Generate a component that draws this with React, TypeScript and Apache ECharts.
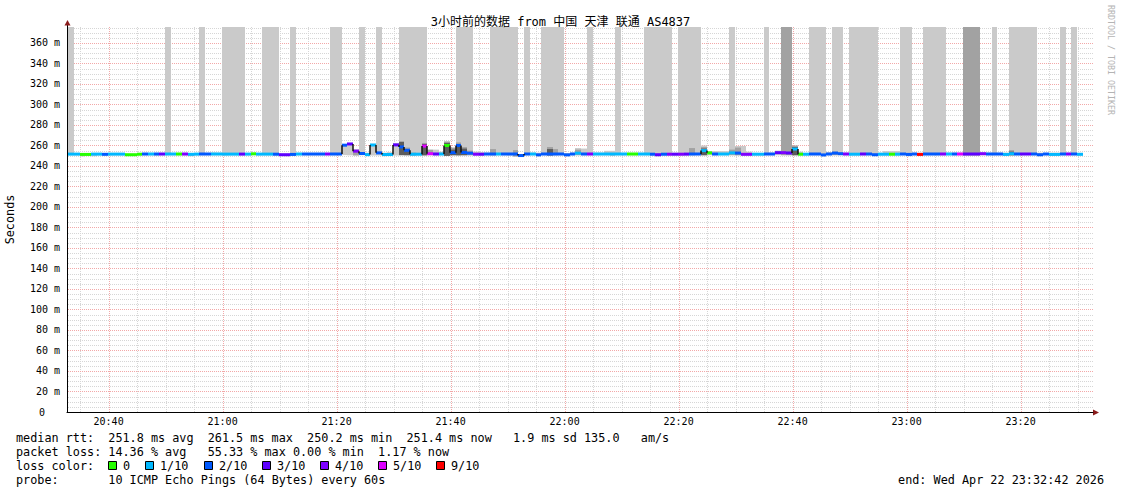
import React, { useEffect, useRef } from 'react';
import * as echarts from 'echarts';

const FONT = '"DejaVu Sans Mono", "Noto Sans CJK SC", monospace';

const titleText = '3小时前的数据 from 中国 天津 联通 AS4837';

// time axis in minutes after 20:00
const startMinute = 32.7; // 20:32:42
const endMinute = 212.7; // 23:32:42
const firstStepMinute = 32.9;
const stepMinutes = 1;

const xTickMinutes = [40, 60, 80, 100, 120, 140, 160, 180, 200];
const xTickLabels = ['20:40', '21:00', '21:20', '21:40', '22:00', '22:20', '22:40', '23:00', '23:20'];

const yMax = 375.6;

// median rtt per step (ms)
const medianRtt = [
  251.6, 251.6, 251.3, 251.3, 251.6, 251.6, 251.4, 251.6, 251.6, 251.6,
  251.0, 251.0, 251.5, 251.7, 251.7, 251.7, 251.7, 251.7, 251.7, 251.7,
  251.7, 251.4, 251.6, 251.7, 251.7, 251.7, 251.7, 251.6, 251.6, 251.6,
  251.6, 251.6, 251.9, 251.6, 251.6, 251.6, 251.5, 251.0, 251.0, 251.3,
  251.7, 251.7, 251.7, 251.7, 251.7, 251.7, 251.7, 251.7, 260.3, 261.5,
  254.5, 252.2, 251.1, 260.5, 252.8, 251.2, 251.2, 260.6, 258.6, 255.3,
  251.5, 251.5, 259.4, 252.0, 251.7, 251.7, 260.0, 253.0, 260.0, 253.2,
  252.5, 251.5, 251.5, 251.7, 251.7, 251.7, 251.7, 251.7, 251.7, 250.2,
  251.7, 251.7, 250.9, 251.7, 251.7, 251.7, 251.7, 250.9, 251.7, 252.5,
  251.7, 251.7, 251.7, 251.7, 251.7, 251.7, 251.7, 251.7, 251.7, 251.7,
  251.7, 251.7, 251.5, 251.0, 251.5, 251.5, 251.5, 251.5, 251.6, 251.7,
  251.7, 255.0, 252.8, 251.7, 251.7, 251.7, 252.8, 252.6, 251.4, 251.4,
  251.5, 251.5, 251.7, 251.7, 253.0, 253.0, 252.7, 256.5, 251.5, 251.5,
  251.7, 251.7, 250.8, 251.7, 252.6, 252.0, 251.7, 251.5, 251.5, 251.7,
  251.7, 251.0, 251.5, 251.5, 251.5, 251.5, 251.7, 251.3, 251.7, 251.3,
  251.7, 251.7, 251.7, 251.7, 251.7, 251.7, 251.7, 251.7, 251.7, 251.7,
  252.0, 251.7, 251.7, 251.7, 251.3, 252.0, 251.7, 251.7, 251.7, 251.7,
  251.0, 251.7, 251.3, 251.3, 251.7, 251.7, 251.7, 251.4,
];

// lost pings (of 10) per step
const lossCount = [
  1, 1, 0, 0, 1, 1, 2, 1, 1, 1,
  0, 0, 0, 2, 1, 2, 3, 1, 1, 0,
  4, 1, 1, 2, 2, 1, 1, 1, 1, 1,
  3, 1, 0, 1, 1, 1, 2, 3, 3, 2,
  1, 2, 2, 2, 2, 4, 2, 2, 2, 3,
  4, 2, 1, 1, 2, 1, 1, 3, 2, 2,
  1, 1, 5, 5, 3, 1, 0, 2, 2, 2,
  2, 4, 3, 2, 2, 1, 2, 2, 2, 2,
  2, 1, 2, 2, 2, 2, 2, 2, 2, 1,
  2, 4, 1, 1, 1, 1, 1, 1, 0, 0,
  1, 1, 2, 3, 2, 4, 3, 4, 3, 2,
  2, 1, 0, 2, 1, 1, 1, 2, 4, 4,
  1, 1, 2, 2, 3, 4, 3, 1, 0, 1,
  2, 2, 2, 2, 2, 2, 4, 1, 1, 3,
  2, 2, 1, 1, 0, 1, 2, 2, 2, 9,
  2, 2, 2, 4, 1, 2, 5, 3, 3, 3,
  4, 2, 2, 2, 1, 1, 2, 3, 3, 2,
  2, 2, 1, 1, 2, 4, 2, 1,
];

// lowest ping per step (ms)
const smokeLow = [
  250.5, 250.5, 249.3, 249.8, 249.5, 250.4, 250.3, 250.4, 250.5, 250.5,
  249.9, 249.8, 250.4, 250.5, 250.4, 250.2, 250.4, 250.5, 250.5, 250.3,
  250.4, 249.5, 250.4, 250.5, 250.5, 250.5, 250.5, 250.3, 250.4, 250.4,
  250.4, 250.5, 250.6, 250.4, 250.4, 250.4, 250.2, 249.8, 249.6, 250.1,
  250.5, 250.5, 250.5, 250.5, 250.5, 250.5, 250.5, 250.5, 250.6, 250.4,
  250.3, 250.5, 250.0, 250.2, 250.2, 249.5, 250.0, 250.2, 250.6, 250.5,
  250.3, 250.4, 250.4, 250.6, 250.4, 250.5, 249.9, 250.5, 250.4, 250.5,
  250.4, 250.4, 250.2, 250.5, 250.4, 250.5, 250.5, 250.2, 249.3, 249.3,
  250.5, 250.5, 249.5, 250.5, 250.3, 250.5, 250.5, 249.6, 250.5, 250.5,
  250.5, 250.4, 250.5, 250.5, 250.5, 249.8, 250.5, 250.5, 250.5, 250.4,
  250.5, 250.4, 250.2, 249.6, 250.3, 250.3, 250.4, 250.3, 250.2, 250.5,
  250.5, 250.5, 250.5, 250.5, 250.5, 250.5, 250.5, 250.4, 250.4, 250.4,
  250.4, 250.4, 250.5, 250.5, 250.5, 250.5, 250.4, 250.5, 250.4, 250.4,
  250.5, 250.5, 249.5, 250.5, 250.5, 250.5, 250.5, 250.4, 250.4, 250.5,
  250.5, 249.7, 250.4, 250.4, 250.4, 250.4, 250.5, 249.5, 250.5, 250.2,
  250.5, 250.5, 250.5, 250.5, 250.5, 250.5, 250.5, 250.3, 250.3, 250.3,
  250.5, 250.5, 250.5, 250.5, 250.1, 250.4, 250.5, 250.5, 250.5, 250.5,
  249.6, 250.5, 250.2, 250.2, 250.5, 250.5, 250.5, 250.4,
];

// highest ping per step (ms); values above the axis are clipped
const smokeTop = [
  400, 252.4, 252.2, 252.2, 252.4, 252.4, 252.3, 252.4, 252.4, 252.4,
  251.9, 251.9, 252.3, 252.5, 252.5, 252.5, 252.5, 400, 252.5, 252.5,
  252.5, 252.3, 252.4, 400, 252.6, 253.2, 253.0, 400, 400, 400,
  400, 252.4, 252.7, 252.4, 400, 400, 400, 252.0, 252.0, 400,
  252.5, 252.5, 252.5, 252.5, 252.5, 252.5, 400, 400, 261.2, 262.4,
  255.8, 400, 253.0, 261.5, 400, 253.0, 253.5, 262.5, 400, 400,
  400, 400, 400, 255.5, 256.0, 254.0, 263.5, 257.0, 400, 400,
  400, 254.0, 253.5, 253.0, 400, 400, 400, 400, 400, 251.5,
  400, 253.0, 253.0, 400, 400, 400, 400, 252.5, 253.0, 257.5,
  257.0, 400, 253.0, 253.0, 254.8, 254.8, 400, 252.8, 252.8, 252.8,
  252.8, 400, 400, 400, 400, 400, 253.0, 400, 400, 400,
  400, 260.0, 254.5, 254.5, 254.5, 254.5, 400, 259.5, 259.5, 254.0,
  252.8, 252.5, 400, 253.0, 255.0, 400, 400, 259.5, 254.0, 252.5,
  400, 400, 400, 253.5, 400, 400, 253.0, 400, 400, 400,
  400, 400, 253.0, 254.5, 254.5, 254.5, 400, 400, 253.0, 253.0,
  400, 400, 400, 400, 253.0, 253.0, 253.0, 400, 400, 400,
  253.0, 253.0, 400, 253.0, 253.0, 400, 400, 400, 400, 400,
  253.0, 252.5, 253.0, 253.0, 400, 253.0, 400, 252.8,
];

// [step, upper ping of the denser smoke band]
const smokeMid = [
  [50, 256], [58, 264], [59, 258], [60, 253], [62, 262.5], [63, 256], [66, 264], [67, 258],
  [68, 263], [69, 258.5], [70, 255], [74, 256.5], [78, 255.5], [84, 258.5], [85, 256.5],
  [89, 256], [109, 257.5], [111, 258.5], [116, 256], [117, 258], [125, 400], [126, 400],
  [127, 260], [134, 254], [157, 400], [158, 400], [159, 400], [165, 255.5],
];

// [step, upper ping of the densest smoke band]
const smokeDark = [
  [58, 263.5], [59, 256], [62, 261.5], [66, 262.5], [67, 256], [68, 261.5], [69, 257],
  [84, 256.5], [111, 257], [127, 258.5], [165, 254],
];

const lossClassColors: Record<number, string> = {
  0: '#26ff00', 1: '#00b8ff', 2: '#0059ff', 3: '#5e00ff', 4: '#7e00ff', 5: '#dd00ff', 9: '#ff0000',
};
const legendLoss = [0, 1, 2, 3, 4, 5, 9];
const legendLabels = ['0', '1/10', '2/10', '3/10', '4/10', '5/10', '9/10'];
const legendBoxX = [108, 145, 204, 262, 320, 378, 436];

const infoRows: { y: number; tokens: [number, string][] }[] = [
  {
    y: 438,
    tokens: [[0, 'median rtt:'], [13, '251.8 ms avg'], [27, '261.5 ms max'], [41, '250.2 ms min'],
      [55, '251.4 ms now'], [70, '1.9 ms sd'], [80, '135.0'], [88, 'am/s']],
  },
  {
    y: 452,
    tokens: [[0, 'packet loss:'], [13, '14.36 % avg'], [27, '55.33 % max'], [39, '0.00 % min'], [51, '1.17 % now']],
  },
  { y: 466, tokens: [[0, 'loss color:']] },
  { y: 480, tokens: [[0, 'probe:'], [13, '10 ICMP Echo Pings (64 Bytes) every 60s']] },
];
const endText = 'end: Wed Apr 22 23:32:42 2026';

function lossColor(n: number) {
  if (n >= 9) return lossClassColors[9];
  if (n >= 5) return lossClassColors[5];
  return lossClassColors[n];
}

export default function App() {
  const ref = useRef<HTMLDivElement>(null);

  useEffect(() => {
    if (!ref.current) return;
    const chart = echarts.init(ref.current, null, { renderer: 'svg' });

    const midMap: Record<number, number> = {};
    smokeMid.forEach(([i, v]) => (midMap[i] = v));
    const darkMap: Record<number, number> = {};
    smokeDark.forEach(([i, v]) => (darkMap[i] = v));

    const smokeData = medianRtt.map((m, i) => [
      firstStepMinute + i * stepMinutes,
      firstStepMinute + (i + 1) * stepMinutes,
      smokeLow[i],
      smokeTop[i],
      midMap[i] || 0,
      darkMap[i] || 0,
    ]);
    const lineData = medianRtt.map((m, i) => [
      firstStepMinute + i * stepMinutes,
      firstStepMinute + (i + 1) * stepMinutes,
      m,
      i > 0 ? medianRtt[i - 1] : m,
      lossCount[i],
    ]);

    const gridData: number[][] = [];
    for (let m = 35; m <= 210; m += 5) gridData.push([0, m, m % 20 === 0 ? 1 : 0]);
    for (let v = 5; v <= 375; v += 5) gridData.push([1, v, v % 20 === 0 ? 1 : 0]);

    const CW = 7.1;
    const infoFont = 11.8;
    const graphics: any[] = [];
    infoRows.forEach((row) => {
      row.tokens.forEach(([col, text]) => {
        graphics.push({
          type: 'text', x: 16 + col * CW, y: row.y,
          style: { text, fill: '#000', font: `${infoFont}px ${FONT}`, textAlign: 'left', textVerticalAlign: 'middle', align: 'left', verticalAlign: 'middle' },
        });
      });
    });
    legendLoss.forEach((n, k) => {
      graphics.push({
        type: 'rect', shape: { x: legendBoxX[k] + 0.5, y: 461.5, width: 8, height: 8 },
        style: { fill: lossColor(n), stroke: '#000', lineWidth: 1 },
      });
      graphics.push({
        type: 'text', x: legendBoxX[k] + 15, y: 466,
        style: { text: legendLabels[k], fill: '#000', font: `${infoFont}px ${FONT}`, textAlign: 'left', textVerticalAlign: 'middle', align: 'left', verticalAlign: 'middle' },
      });
    });
    graphics.push({
      type: 'text', x: 1104, y: 480,
      style: { text: endText, fill: '#000', font: `${infoFont}px ${FONT}`, textAlign: 'right', textVerticalAlign: 'middle', align: 'right', verticalAlign: 'middle' },
    });
    graphics.push({
      type: 'text', x: 1111, y: 5, rotation: -Math.PI / 2,
      style: { text: 'RRDTOOL / TOBI OETIKER', fill: '#b4b4b4', font: `8.3px ${FONT}`, textAlign: 'left', textVerticalAlign: 'middle', align: 'left', verticalAlign: 'middle' },
    });
    // axis arrows
    graphics.push({ type: 'line', shape: { x1: 67.5, y1: 28, x2: 67.5, y2: 22 }, style: { stroke: '#000', lineWidth: 1 } });
    graphics.push({ type: 'polygon', shape: { points: [[64.5, 25.5], [67.5, 20], [70.5, 25.5]] }, style: { fill: '#8b1c1c' } });
    graphics.push({ type: 'polygon', shape: { points: [[1093, 409.5], [1099, 412.5], [1093, 415.5]] }, style: { fill: '#8b1c1c' } });

    const labelStyle = { fontFamily: FONT, fontSize: 10, color: '#000' };

    const option: any = {
      animation: false,
      backgroundColor: '#ffffff',
      title: {
        text: titleText, left: 'center', top: 11,
        textStyle: { fontFamily: FONT, fontSize: 12, fontWeight: 'normal', color: '#000' },
      },
      grid: { left: 67, top: 27, width: 1026, height: 385, containLabel: false, outerBoundsMode: 'none' },
      xAxis: {
        type: 'value', min: startMinute, max: endMinute, z: 5,
        axisLine: { show: true, onZero: false, lineStyle: { color: '#000', width: 1 } },
        axisTick: { show: false }, axisLabel: { show: false }, splitLine: { show: false },
      },
      yAxis: {
        type: 'value', min: 0, max: yMax, interval: 20, z: 5,
        name: 'Seconds', nameLocation: 'middle', nameGap: 51, nameRotate: 90,
        nameTextStyle: { fontFamily: FONT, fontSize: 11.8, color: '#000' },
        axisLine: { show: true, onZero: false, lineStyle: { color: '#000', width: 1 } },
        axisTick: { show: false },
        splitLine: { show: false },
        axisLabel: {
          margin: 7, ...labelStyle,
          formatter: (v: number) => (v === 0 ? '{z|0}' : v % 20 === 0 ? `{n|${v} m}` : ''),
          rich: {
            z: { ...labelStyle, padding: [0, 15, 0, 0] },
            n: { ...labelStyle },
          },
        },
      },
      series: [
        {
          type: 'custom', name: 'grid', z: 1, silent: true,
          data: gridData,
          renderItem: (params: any, api: any) => {
            const cs = params.coordSys;
            const major = api.value(2) === 1;
            const style = { stroke: major ? '#f2a8a8' : '#d6d6d6', lineWidth: 1, lineDash: [1, 1] };
            if (api.value(0) === 0) {
              const x = Math.round(api.coord([api.value(1), 0])[0]) + 0.5;
              return { type: 'line', shape: { x1: x, y1: cs.y, x2: x, y2: cs.y + cs.height }, style };
            }
            const y = Math.round(api.coord([startMinute, api.value(1)])[1]) + 0.5;
            return { type: 'line', shape: { x1: cs.x + 1, y1: y, x2: cs.x + cs.width, y2: y }, style };
          },
        },
        {
          type: 'custom', name: 'smoke', z: 2, silent: true,
          data: smokeData,
          renderItem: (params: any, api: any) => {
            const cs = params.coordSys;
            const clip = { x: cs.x, y: cs.y, width: cs.width, height: cs.height };
            const x0 = Math.round(api.coord([api.value(0), 0])[0]);
            const x1 = Math.round(api.coord([api.value(1), 0])[0]);
            const yLow = api.coord([api.value(0), api.value(2)])[1];
            const children: any[] = [];
            const add = (top: number, fill: string) => {
              const yTop = api.coord([api.value(0), top])[1];
              const r = echarts.graphic.clipRectByRect({ x: x0, y: yTop, width: x1 - x0, height: yLow - yTop }, clip);
              if (r) children.push({ type: 'rect', shape: r, style: { fill } });
            };
            add(api.value(3), '#cacaca');
            if (api.value(4) > 0) add(api.value(4), '#a2a2a2');
            if (api.value(5) > 0) add(api.value(5), '#5c5c5c');
            return { type: 'group', children };
          },
        },
        {
          type: 'custom', name: 'median', z: 4, silent: true,
          data: lineData,
          renderItem: (params: any, api: any) => {
            const x0 = Math.round(api.coord([api.value(0), 0])[0]);
            const x1 = Math.round(api.coord([api.value(1), 0])[0]);
            const y = api.coord([api.value(0), api.value(2)])[1];
            const yPrev = api.coord([api.value(0), api.value(3)])[1];
            const children: any[] = [
              { type: 'rect', shape: { x: x0, y: y - 1.5, width: x1 - x0, height: 3 }, style: { fill: lossColor(api.value(4)) } },
            ];
            if (Math.abs(y - yPrev) > 1.5) {
              children.push({ type: 'line', shape: { x1: x0, y1: yPrev, x2: x0, y2: y }, style: { stroke: '#111', lineWidth: 1.5 } });
            }
            return { type: 'group', children };
          },
        },
        {
          type: 'custom', name: 'timeLabels', z: 4, silent: true,
          data: xTickMinutes.map((m, i) => [m, i]),
          renderItem: (params: any, api: any) => {
            const cs = params.coordSys;
            const x = api.coord([api.value(0), 0])[0];
            return {
              type: 'text', x, y: cs.y + cs.height + 9,
              style: {
                text: xTickLabels[api.value(1)], fill: '#000', font: `10px ${FONT}`,
                textAlign: 'center', textVerticalAlign: 'middle', align: 'center', verticalAlign: 'middle',
              },
            };
          },
        },
      ],
      graphic: graphics,
    };

    chart.setOption(option);
    return () => chart.dispose();
  }, []);

  return (
    <div
      ref={ref}
      style={{ position: 'fixed', left: 0, top: 0, width: 1121, height: 494, background: '#fff' }}
    />
  );
}
